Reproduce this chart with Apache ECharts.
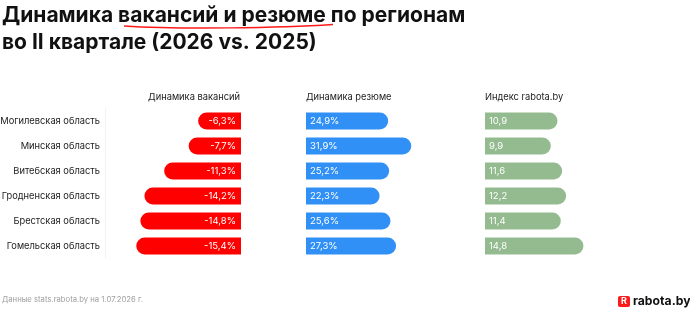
<!DOCTYPE html>
<html>
<head>
<meta charset="utf-8">
<script src="https://cdn.jsdelivr.net/npm/echarts@6/dist/echarts.min.js"></script>
<style>
  html, body { margin: 0; padding: 0; background: #fff; }
  #chart { width: 690px; height: 309px; }
</style>
</head>
<body>
<div id="chart"></div>
<script>
  // data
  const regions = ['Могилевская область', 'Минская область', 'Витебская область', 'Гродненская область', 'Брестская область', 'Гомельская область']
  const vacancyChange = [-6.3, -7.7, -11.3, -14.2, -14.8, -15.4]
  const resumeChange = [24.9, 31.9, 25.2, 22.3, 25.6, 27.3]
  const rabotaIndex = [10.9, 9.9, 11.6, 12.2, 11.4, 14.8]

  const FONT = 'Inter, "Noto Sans", sans-serif'
  const fmt = (v, pct) => v.toFixed(1).replace('.', ',') + (pct ? '%' : '')

  const chart = echarts.init(document.getElementById('chart'), null, { renderer: 'canvas' })

  const grids = [
    { left: 105, top: 108.5, width: 136, height: 150, outerBoundsMode: 'none' },
    { left: 306, top: 108.5, width: 132, height: 150, outerBoundsMode: 'none' },
    { left: 485, top: 108.5, width: 133, height: 150, outerBoundsMode: 'none' }
  ]
  const ranges = [[-20, 0], [0, 40], [0, 20]]

  const yAxes = grids.map((g, i) => ({
    gridIndex: i,
    type: 'category',
    inverse: true,
    data: regions,
    axisLine: { show: i === 0, onZero: false, lineStyle: { color: '#f2f2f2', width: 1 } },
    axisTick: { show: false },
    axisLabel: {
      show: i === 0,
      margin: 5,
      color: '#222',
      fontSize: 9.3,
      fontFamily: FONT
    }
  }))

  const xAxes = grids.map((g, i) => ({
    gridIndex: i,
    type: 'value',
    min: ranges[i][0],
    max: ranges[i][1],
    show: false
  }))

  const barBase = {
    type: 'bar',
    barWidth: 17,
    silent: true
  }

  chart.setOption({
    animation: false,
    backgroundColor: '#fff',
    grid: grids,
    xAxis: xAxes,
    yAxis: yAxes,
    series: [
      Object.assign({}, barBase, {
        xAxisIndex: 0, yAxisIndex: 0,
        data: vacancyChange,
        itemStyle: { color: '#ff0000', borderRadius: [8.5, 0, 0, 8.5] },
        label: {
          show: true, position: 'insideRight', distance: 5,
          color: '#fff', fontSize: 9.5, fontFamily: FONT,
          formatter: p => fmt(p.value, true)
        }
      }),
      Object.assign({}, barBase, {
        xAxisIndex: 1, yAxisIndex: 1,
        data: resumeChange,
        itemStyle: { color: '#3190f6', borderRadius: [0, 8.5, 8.5, 0] },
        label: {
          show: true, position: 'insideLeft', distance: 4,
          color: '#fff', fontSize: 9.5, fontFamily: FONT,
          formatter: p => fmt(p.value, true)
        }
      }),
      Object.assign({}, barBase, {
        xAxisIndex: 2, yAxisIndex: 2,
        data: rabotaIndex,
        itemStyle: { color: '#93bb8f', borderRadius: [0, 8.5, 8.5, 0] },
        label: {
          show: true, position: 'insideLeft', distance: 4,
          color: '#fff', fontSize: 9.5, fontFamily: FONT,
          formatter: p => fmt(p.value, false)
        }
      })
    ],
    graphic: [
      {
        type: 'text', left: 2, top: 2,
        style: {
          text: 'Динамика вакансий и резюме по регионам\nво II квартале (2026 vs. 2025)',
          font: 'bold 21px ' + FONT, fill: '#111', lineHeight: 27
        }
      },
      {
        type: 'bezierCurve',
        shape: { x1: 124, y1: 26, cpx1: 180, cpy1: 29.5, cpx2: 280, cpy2: 28, x2: 333, y2: 24.5 },
        style: { stroke: '#ff1a1a', lineWidth: 1.5, fill: null }
      },
      {
        type: 'text', x: 240, y: 97,
        style: { text: 'Динамика вакансий', font: '9.3px ' + FONT, fill: '#222', align: 'right', verticalAlign: 'middle' }
      },
      {
        type: 'text', x: 306, y: 97,
        style: { text: 'Динамика резюме', font: '9.3px ' + FONT, fill: '#222', verticalAlign: 'middle' }
      },
      {
        type: 'text', x: 485, y: 97,
        style: { text: 'Индекс rabota.by', font: '9.3px ' + FONT, fill: '#222', verticalAlign: 'middle' }
      },
      {
        type: 'text', x: 2, y: 299.5,
        style: { text: 'Данные stats.rabota.by на 1.07.2026 г.', font: '7.7px ' + FONT, fill: '#a0a0a0', verticalAlign: 'middle' }
      },
      {
        type: 'rect', shape: { x: 618, y: 296, width: 12, height: 11, r: 2 },
        style: { fill: '#ff1a1a' }
      },
      {
        type: 'text', x: 624, y: 301.7,
        style: { text: 'R', font: 'bold 9px ' + FONT, fill: '#fff', align: 'center', verticalAlign: 'middle' }
      },
      {
        type: 'text', x: 633, y: 301.5,
        style: { text: 'rabota.by', font: 'bold 12.2px ' + FONT, fill: '#111', verticalAlign: 'middle' }
      }
    ]
  })
</script>
</body>
</html>
